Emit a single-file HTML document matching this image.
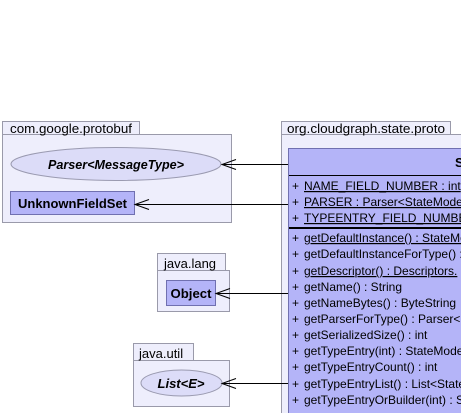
<!DOCTYPE html>
<html><head><style>
html,body{margin:0;padding:0;background:#fff;}
svg{display:block;}
text{font-family:"Liberation Sans",sans-serif;font-size:12px;fill:#000;}
.p{font-size:13px;}
.b{font-weight:bold;font-size:13px;}
.bi{font-weight:bold;font-style:italic;font-size:13px;}
</style></head><body>
<svg width="461" height="413" viewBox="0 0 461 413" xmlns="http://www.w3.org/2000/svg">
<g fill="#eeeefc" stroke="#9a9aaa" stroke-width="1">
<rect x="2.5" y="121.5" width="137" height="13"/>
<rect x="2.5" y="134.5" width="229" height="88"/>
<rect x="281.5" y="121.5" width="169" height="13"/>
<rect x="281.5" y="134.5" width="185" height="290"/>
<rect x="157.5" y="253.5" width="68" height="17"/>
<rect x="157.5" y="270.5" width="72" height="41"/>
<rect x="133.5" y="343.5" width="60" height="17"/>
<rect x="133.5" y="360.5" width="96" height="46"/>
</g>
<text x="10" y="133" class="p" textLength="122" lengthAdjust="spacingAndGlyphs">com.google.protobuf</text>
<text x="287" y="133" class="p" textLength="158" lengthAdjust="spacingAndGlyphs">org.cloudgraph.state.proto</text>
<text x="164" y="268" class="p">java.lang</text>
<text x="139" y="358" class="p">java.util</text>

<ellipse cx="116" cy="164" rx="105" ry="16.5" fill="#dcdcf8" stroke="#9a9ab0"/>
<text x="116" y="169" class="bi" text-anchor="middle" textLength="136" lengthAdjust="spacingAndGlyphs">Parser&lt;MessageType&gt;</text>
<rect x="10.5" y="191.5" width="124" height="23" fill="#b4b4f8" stroke="#7070b0"/>
<text x="18" y="208" class="b" textLength="109" lengthAdjust="spacingAndGlyphs">UnknownFieldSet</text>
<rect x="166.5" y="280.5" width="49" height="25" fill="#b4b4f8" stroke="#7070b0"/>
<text x="191" y="298" class="b" text-anchor="middle" textLength="41" lengthAdjust="spacingAndGlyphs">Object</text>
<ellipse cx="181.5" cy="383" rx="40.5" ry="13" fill="#dcdcf8" stroke="#9a9ab0"/>
<text x="181" y="388" class="bi" text-anchor="middle">List&lt;E&gt;</text>

<rect x="288.5" y="148.5" width="190" height="280" fill="#b4b4f8" stroke="#7070b0"/>
<line x1="289" y1="175.5" x2="461" y2="175.5" stroke="#000"/>
<line x1="289" y1="228" x2="461" y2="228" stroke="#000" stroke-width="2"/>
<text x="455" y="167" class="b">S</text>
<g>
<text x="292" y="190">+</text><text x="304" y="190" text-decoration="underline">NAME_FIELD_NUMBER : int</text>
<text x="292" y="206">+</text><text x="304" y="206" text-decoration="underline">PARSER : Parser&lt;StateModel</text>
<text x="292" y="222">+</text><text x="304" y="222" text-decoration="underline">TYPEENTRY_FIELD_NUMBER</text>
<text x="292" y="242">+</text><text x="304" y="242" text-decoration="underline">getDefaultInstance() : StateMo</text>
<text x="292" y="258">+</text><text x="304" y="258">getDefaultInstanceForType() :</text>
<text x="292" y="275">+</text><text x="304" y="275" text-decoration="underline">getDescriptor() : Descriptors.</text>
<text x="292" y="291">+</text><text x="304" y="291">getName() : String</text>
<text x="292" y="307">+</text><text x="304" y="307">getNameBytes() : ByteString</text>
<text x="292" y="323">+</text><text x="304" y="323">getParserForType() : Parser&lt;</text>
<text x="292" y="339">+</text><text x="304" y="339">getSerializedSize() : int</text>
<text x="292" y="355">+</text><text x="304" y="355">getTypeEntry(int) : StateModel</text>
<text x="292" y="371">+</text><text x="304" y="371">getTypeEntryCount() : int</text>
<text x="292" y="388">+</text><text x="304" y="388">getTypeEntryList() : List&lt;State</text>
<text x="292" y="404">+</text><text x="304" y="404">getTypeEntryOrBuilder(int) : S</text>
</g>

<g stroke="#000" stroke-width="1" fill="none">
<line x1="222" y1="164.5" x2="288" y2="164.5"/>
<polyline points="236,159.5 222,164.5 236,169.5"/>
<line x1="135" y1="204.5" x2="288" y2="204.5"/>
<polyline points="149,199.5 135,204.5 149,209.5"/>
<line x1="216" y1="293.5" x2="288" y2="293.5"/>
<polyline points="230,288.5 216,293.5 230,298.5"/>
<line x1="222" y1="383.5" x2="288" y2="383.5"/>
<polyline points="236,378.5 222,383.5 236,388.5"/>
</g>
</svg>
</body></html>
